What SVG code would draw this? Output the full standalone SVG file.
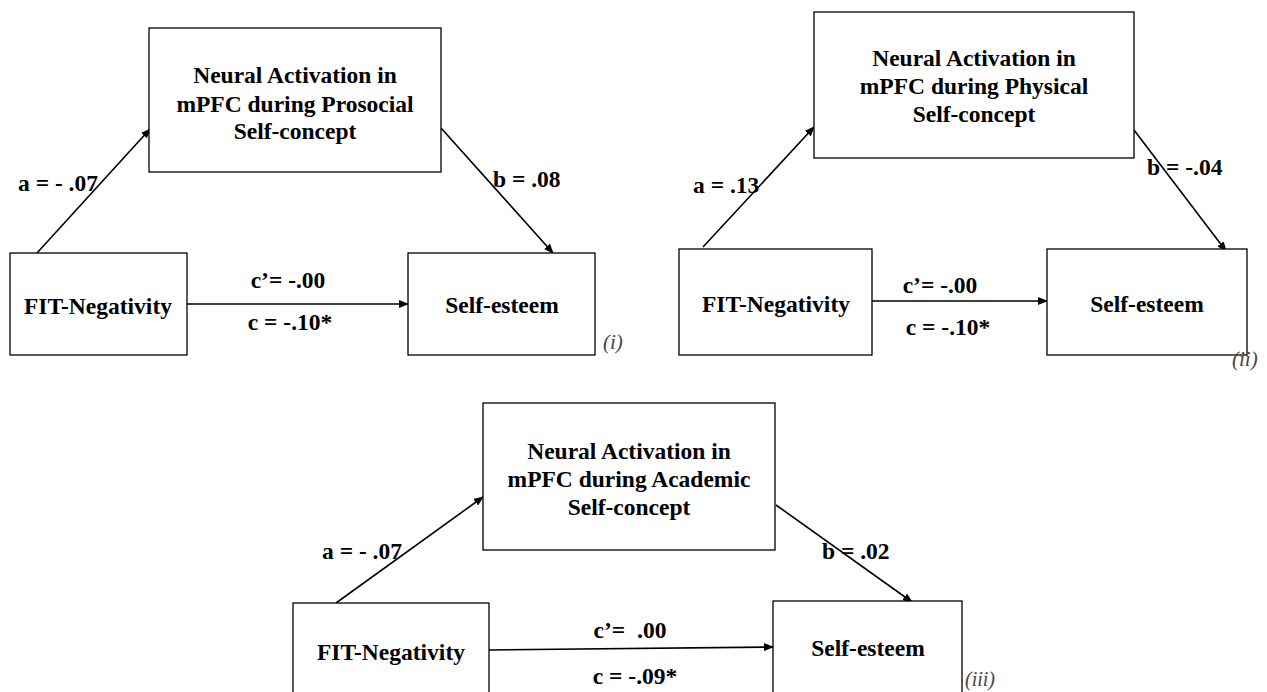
<svg xmlns="http://www.w3.org/2000/svg" width="1267" height="692" viewBox="0 0 1267 692">
<style>
.box{fill:#fff;stroke:#000;stroke-width:1.3}
.t{font-family:"Liberation Serif","Times New Roman",serif;font-weight:bold;font-size:23.5px;fill:#000;text-anchor:middle}
.l{font-family:"Liberation Serif","Times New Roman",serif;font-weight:bold;font-size:23.5px;fill:#000}
.lab{font-family:"Liberation Serif","Times New Roman",serif;font-style:italic;font-size:21px;fill:#444}
.c{stroke:#000;stroke-width:1.6;fill:none;marker-end:url(#ah)}
</style>
<defs>
<marker id="ah" markerWidth="10" markerHeight="8" refX="9" refY="4" orient="auto" markerUnits="userSpaceOnUse">
<path d="M0,0 L10,4 L0,8 Z" fill="#000"/>
</marker>
</defs>
<rect width="1267" height="692" fill="#fff"/>
<g id="connectors">
<line class="c" x1="37" y1="253" x2="150" y2="129"/>
<line class="c" x1="441" y1="128" x2="553" y2="253"/>
<line class="c" x1="187" y1="304" x2="408" y2="304"/>
<line class="c" x1="703" y1="247" x2="814" y2="127"/>
<line class="c" x1="1134" y1="130" x2="1226" y2="251"/>
<line class="c" x1="872" y1="301" x2="1047" y2="301"/>
<line class="c" x1="336" y1="603" x2="483" y2="497"/>
<line class="c" x1="776" y1="505" x2="912" y2="602"/>
<line class="c" x1="489" y1="650" x2="773" y2="647"/>
</g>
<g id="med1">
<rect class="box" x="149" y="28" width="292" height="144"/>
<text class="t" x="295" y="83">Neural Activation in</text>
<text class="t" x="295" y="112">mPFC during Prosocial</text>
<text class="t" x="295" y="139">Self-concept</text>
</g>
<g id="fit1">
<rect class="box" x="10" y="253" width="177" height="102"/>
<text class="t" x="98" y="314">FIT-Negativity</text>
</g>
<g id="se1">
<rect class="box" x="408" y="253" width="187" height="102"/>
<text class="t" x="502" y="313">Self-esteem</text>
</g>
<g id="labels1">
<text class="l" x="18" y="191">a = - .07</text>
<text class="l" x="493" y="187">b = .08</text>
<text class="t" x="288" y="288">c’= -.00</text>
<text class="t" x="290" y="330">c = -.10*</text>
<text class="lab" x="603" y="349">(i)</text>
</g>
<g id="med2">
<rect class="box" x="814" y="12" width="320" height="146"/>
<text class="t" x="974" y="66">Neural Activation in</text>
<text class="t" x="974" y="94">mPFC during Physical</text>
<text class="t" x="974" y="122">Self-concept</text>
</g>
<g id="fit2">
<rect class="box" x="679" y="249" width="193" height="106"/>
<text class="t" x="776" y="312">FIT-Negativity</text>
</g>
<g id="se2">
<rect class="box" x="1047" y="249" width="200" height="106"/>
<text class="t" x="1147" y="312">Self-esteem</text>
</g>
<g id="labels2">
<text class="l" x="693" y="193">a = .13</text>
<text class="l" x="1147" y="175">b = -.04</text>
<text class="t" x="940" y="293">c’= -.00</text>
<text class="t" x="948" y="335">c = -.10*</text>
<text class="lab" x="1232" y="366">(ii)</text>
</g>
<g id="med3">
<rect class="box" x="483" y="403" width="292" height="147"/>
<text class="t" x="629" y="459">Neural Activation in</text>
<text class="t" x="629" y="487">mPFC during Academic</text>
<text class="t" x="629" y="515">Self-concept</text>
</g>
<g id="fit3">
<rect class="box" x="293" y="603" width="196" height="100"/>
<text class="t" x="391" y="660">FIT-Negativity</text>
</g>
<g id="se3">
<rect class="box" x="773" y="601" width="189" height="100"/>
<text class="t" x="868" y="656">Self-esteem</text>
</g>
<g id="labels3">
<text class="l" x="322" y="559">a = - .07</text>
<text class="l" x="822" y="559">b = .02</text>
<text class="t" x="630" y="638" xml:space="preserve">c’=  .00</text>
<text class="t" x="635" y="684">c = -.09*</text>
<text class="lab" x="965" y="686" style="font-size:20px">(iii)</text>
</g>
</svg>
